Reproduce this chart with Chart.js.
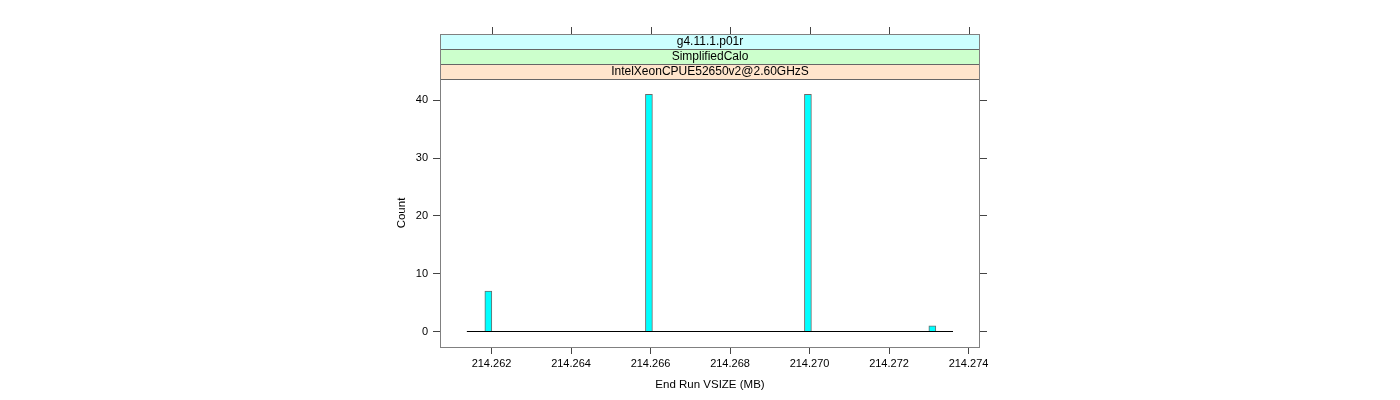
<!DOCTYPE html>
<html>
<head>
<meta charset="utf-8">
<script src="https://cdn.jsdelivr.net/npm/chart.js@4.4.0/dist/chart.umd.min.js"></script>
<style>
  html, body { margin: 0; padding: 0; background: #fff; }
  #wrap { width: 1400px; height: 400px; }
</style>
</head>
<body>
<div id="wrap"><canvas id="histChart" width="1400" height="400"></canvas></div>
<script>
// histogram bins (bin centre, MB) and counts
const binCenters = [214.26192, 214.26596, 214.26996, 214.27309];
const binCounts = [7, 41, 41, 1];
// zero line spans the histogram breaks
const baseStart = 214.26138;
const baseEnd = 214.27361;
const xTicks = [214.262, 214.264, 214.266, 214.268, 214.270, 214.272, 214.274];
const yTicks = [0, 10, 20, 30, 40];
const stripLabels = ['g4.11.1.p01r', 'SimplifiedCalo', 'IntelXeonCPUE52650v2@2.60GHzS'];
const stripColors = ['#ccffff', '#ccffcc', '#ffe5cc'];

const FONT = 'Liberation Sans, Arial, Helvetica, sans-serif';
const frameColor = '#808080';
const STRIP_TOP = 34;
const STRIP_H = 15;

const latticePanel = {
  id: 'latticePanel',
  afterDraw(chart) {
    const { ctx, chartArea: a, scales } = chart;
    ctx.save();
    // strips
    ctx.font = '12px ' + FONT;
    ctx.textAlign = 'center';
    ctx.textBaseline = 'middle';
    stripLabels.forEach((lab, i) => {
      const y = STRIP_TOP + i * STRIP_H;
      ctx.fillStyle = stripColors[i];
      ctx.fillRect(a.left, y, a.right - a.left, STRIP_H);
      ctx.strokeStyle = '#666';
      ctx.lineWidth = 1;
      ctx.strokeRect(a.left + 0.5, y + 0.5, a.right - a.left - 1, STRIP_H);
      ctx.fillStyle = '#000';
      ctx.fillText(lab, (a.left + a.right) / 2, y + STRIP_H / 2 + 0.5);
    });
    // panel frame
    ctx.strokeStyle = frameColor;
    ctx.strokeRect(a.left + 0.5, STRIP_TOP + 0.5, a.right - a.left - 1, a.bottom - STRIP_TOP);
    // top tick marks above the strips
    ctx.beginPath();
    xTicks.forEach(v => {
      const x = Math.round(scales.x.getPixelForValue(v)) + 0.5;
      ctx.moveTo(x, STRIP_TOP);
      ctx.lineTo(x, STRIP_TOP - 7);
    });
    ctx.strokeStyle = '#444';
    ctx.stroke();
    ctx.restore();
  }
};

const ctx = document.getElementById('histChart').getContext('2d');
new Chart(ctx, {
  type: 'bar',
  data: {
    datasets: [
      {
        type: 'bar',
        data: binCenters.map((x, i) => ({ x, y: binCounts[i] })),
        backgroundColor: '#00ffff',
        borderColor: '#6b6b6b',
        borderWidth: 1,
        barThickness: 7,
        order: 2
      },
      {
        type: 'line',
        data: [{ x: baseStart, y: 0 }, { x: baseEnd, y: 0 }],
        borderColor: '#000',
        borderWidth: 1,
        pointRadius: 0,
        order: 1
      }
    ]
  },
  options: {
    responsive: false,
    animation: false,
    events: [],
    layout: { padding: { left: 390, right: 413, top: 79, bottom: 8 } },
    plugins: { legend: { display: false }, tooltip: { enabled: false } },
    scales: {
      x: {
        type: 'linear',
        offset: false,
        min: 214.260704,
        max: 214.274289,
        afterBuildTicks: s => { s.ticks = xTicks.map(v => ({ value: v })); },
        afterFit: s => { s.height = 45; },
        ticks: {
          color: '#000',
          font: { family: FONT, size: 11 },
          padding: 3,
          maxRotation: 0,
          callback: v => v.toFixed(3)
        },
        grid: { offset: false, drawOnChartArea: false, drawTicks: true, tickLength: 7, color: '#444' },
        border: { display: false },
        title: { display: true, text: 'End Run VSIZE (MB)', color: '#000', font: { family: FONT, size: 11.5 }, padding: 0 }
      },
      y: {
        min: -2.68,
        max: 43.67,
        afterBuildTicks: s => { s.ticks = yTicks.map(v => ({ value: v })); },
        afterFit: s => { s.width = 50; },
        ticks: { color: '#000', font: { family: FONT, size: 11 }, padding: 5 },
        grid: { drawOnChartArea: false, drawTicks: true, tickLength: 7, color: '#444' },
        border: { display: false },
        title: { display: true, text: 'Count', color: '#000', font: { family: FONT, size: 11.5 }, padding: { top: 5, bottom: 0 } }
      },
      yRight: {
        position: 'right',
        min: -2.68,
        max: 43.67,
        afterBuildTicks: s => { s.ticks = yTicks.map(v => ({ value: v })); },
        afterFit: s => { s.width = 7; },
        ticks: { display: false },
        grid: { drawOnChartArea: false, drawTicks: true, tickLength: 7, color: '#444' },
        border: { display: false }
      }
    }
  },
  plugins: [latticePanel]
});
</script>
</body>
</html>
